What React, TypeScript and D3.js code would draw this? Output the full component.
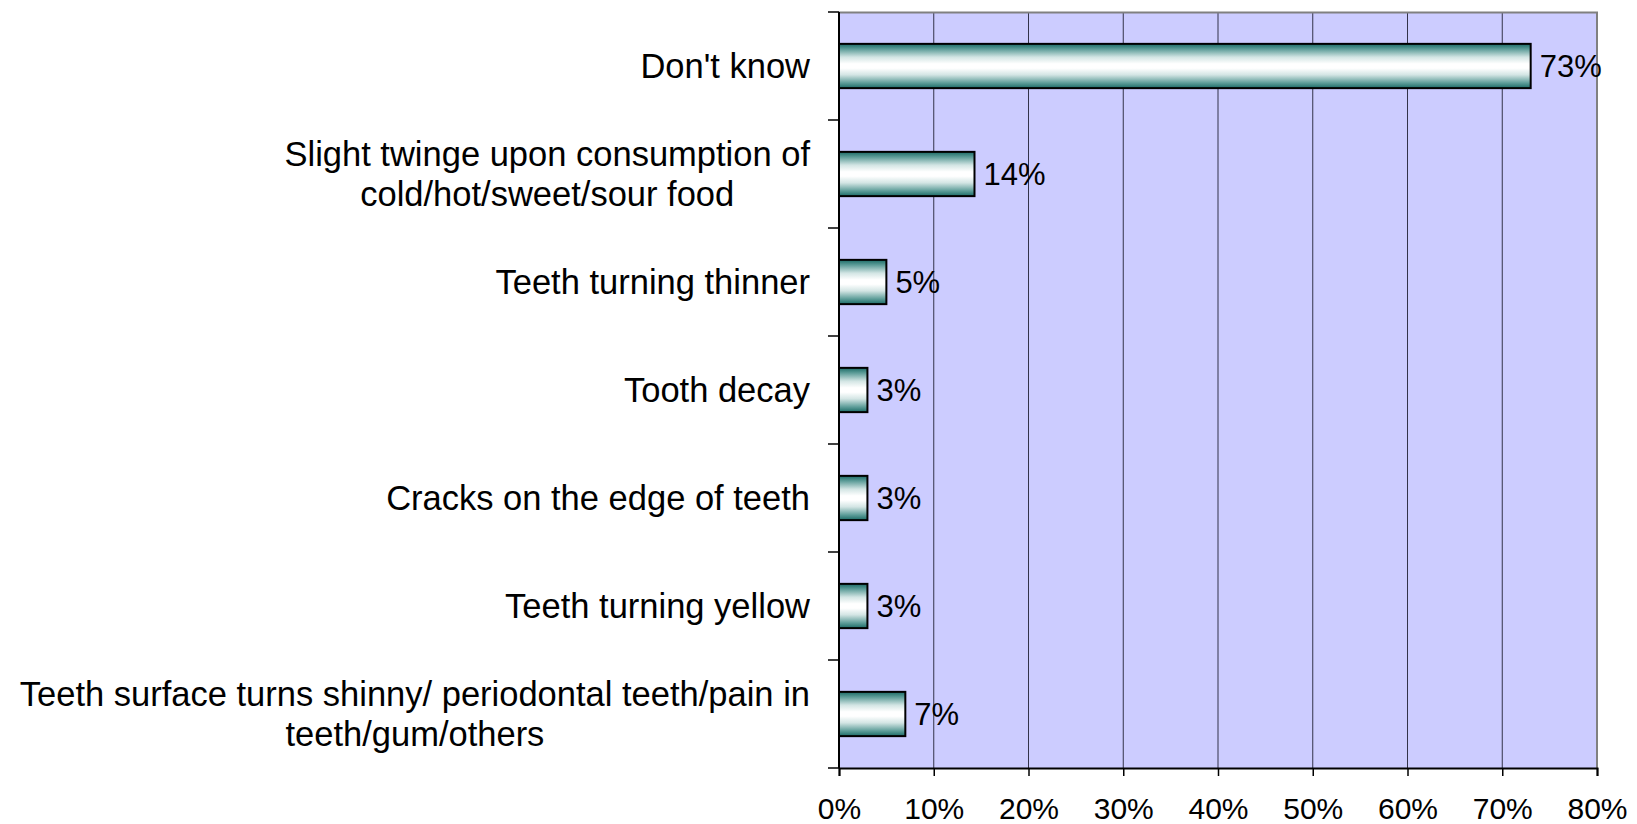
import React, { useEffect, useRef } from 'react';
import * as d3 from 'd3';

// categories, top to bottom ("|" marks a line break in the axis label)
const categories = [
  "Don't know",
  'Slight twinge upon consumption of|cold/hot/sweet/sour food',
  'Teeth turning thinner',
  'Tooth decay',
  'Cracks on the edge of teeth',
  'Teeth turning yellow',
  'Teeth surface turns shinny/ periodontal teeth/pain in|teeth/gum/others',
];
const values = [73, 14.3, 5, 3, 3, 3, 7];
const xTicks = [0, 10, 20, 30, 40, 50, 60, 70, 80];

const App: React.FC = () => {
  const svgRef = useRef<SVGSVGElement>(null);

  useEffect(() => {
    if (!svgRef.current) return;
    const svg = d3.select(svgRef.current);
    svg.selectAll('*').remove();

    const width = 1637;
    const height = 824;
    const margin = { top: 12, right: 40, bottom: 56, left: 839 };
    const innerWidth = width - margin.left - margin.right;
    const innerHeight = height - margin.top - margin.bottom;
    const font = '"Liberation Sans", Arial, sans-serif';

    // bar gradient: teal edges, white middle
    const defs = svg.append('defs');
    const grad = defs
      .append('linearGradient')
      .attr('id', 'barGrad')
      .attr('x1', 0)
      .attr('y1', 0)
      .attr('x2', 0)
      .attr('y2', 1);
    [
      [0, '#1a6a65'],
      [0.12, '#5f9e9a'],
      [0.3, '#d3e5e4'],
      [0.45, '#ffffff'],
      [0.55, '#ffffff'],
      [0.7, '#d3e5e4'],
      [0.88, '#5f9e9a'],
      [1, '#1a6a65'],
    ].forEach(([o, c]) => grad.append('stop').attr('offset', o as number).attr('stop-color', c as string));

    const g = svg.append('g').attr('transform', `translate(${margin.left},${margin.top})`);

    const xScale = d3.scaleLinear().domain([0, 80]).range([0, innerWidth]);
    const yScale = d3
      .scaleBand()
      .domain(categories)
      .range([0, innerHeight])
      .paddingInner(0.59)
      .paddingOuter(0.295);

    // plot background
    g.append('rect')
      .attr('width', innerWidth)
      .attr('height', innerHeight)
      .attr('fill', '#ccccff');

    // gridlines
    g.selectAll('.grid')
      .data(xTicks.slice(1, -1))
      .enter()
      .append('line')
      .attr('x1', d => xScale(d))
      .attr('x2', d => xScale(d))
      .attr('y1', 0)
      .attr('y2', innerHeight)
      .attr('stroke', '#33334a')
      .attr('stroke-width', 1);

    // top / right border
    g.append('path')
      .attr('d', `M0,0.5H${innerWidth}V${innerHeight}`)
      .attr('fill', 'none')
      .attr('stroke', '#808080')
      .attr('stroke-width', 2);

    // bars
    g.selectAll('.bar')
      .data(values)
      .enter()
      .append('rect')
      .attr('x', 0)
      .attr('y', (_, i) => yScale(categories[i]) || 0)
      .attr('width', d => xScale(d))
      .attr('height', yScale.bandwidth())
      .attr('fill', 'url(#barGrad)')
      .attr('stroke', '#000')
      .attr('stroke-width', 2);

    // value labels
    g.selectAll('.val')
      .data(values)
      .enter()
      .append('text')
      .attr('x', d => xScale(d) + 9)
      .attr('y', (_, i) => (yScale(categories[i]) || 0) + yScale.bandwidth() / 2)
      .attr('dy', '0.36em')
      .attr('font-family', font)
      .attr('font-size', 31)
      .attr('fill', '#000')
      .text(d => `${Math.round(d)}%`);

    // left axis line + ticks at band boundaries
    const step = yScale.step();
    g.append('line')
      .attr('x1', 0)
      .attr('x2', 0)
      .attr('y1', 0)
      .attr('y2', innerHeight)
      .attr('stroke', '#000')
      .attr('stroke-width', 2);
    g.selectAll('.ytick')
      .data(d3.range(categories.length + 1))
      .enter()
      .append('line')
      .attr('x1', -11)
      .attr('x2', 0)
      .attr('y1', i => i * step)
      .attr('y2', i => i * step)
      .attr('stroke', '#000')
      .attr('stroke-width', 1.5);

    // category labels (multi-line blocks right-aligned, lines centered)
    const lineGap = 40;
    categories.forEach(cat => {
      const lines = cat.split('|');
      const cy = (yScale(cat) || 0) + yScale.bandwidth() / 2;
      const t = g
        .append('text')
        .attr('font-family', font)
        .attr('font-size', 34.5)
        .attr('fill', '#000')
        .attr('text-anchor', 'middle');
      const spans = lines.map((line, j) =>
        t
          .append('tspan')
          .attr('y', cy + (j - (lines.length - 1) / 2) * lineGap)
          .attr('dy', '0.36em')
          .text(line)
      );
      const maxW = d3.max(spans, s => (s.node() as SVGTSpanElement).getComputedTextLength()) || 0;
      spans.forEach(s => s.attr('x', -29 - maxW / 2));
    });

    // bottom axis
    const xAxis = g
      .append('g')
      .attr('transform', `translate(0,${innerHeight})`)
      .call(
        d3
          .axisBottom(xScale)
          .tickValues(xTicks)
          .tickSize(8)
          .tickFormat(d => `${d}%`)
      );
    xAxis.select('.domain').attr('stroke', '#000').attr('stroke-width', 2);
    xAxis.selectAll('.tick line').attr('stroke', '#000').attr('stroke-width', 1.5);
    xAxis
      .selectAll('.tick text')
      .attr('font-family', font)
      .attr('font-size', 30)
      .attr('fill', '#000')
      .attr('y', 30);
  }, []);

  return (
    <svg
      ref={svgRef}
      width={1637}
      height={824}
      style={{ position: 'absolute', left: 0, top: 0, background: '#fff' }}
    />
  );
};

export default App;
